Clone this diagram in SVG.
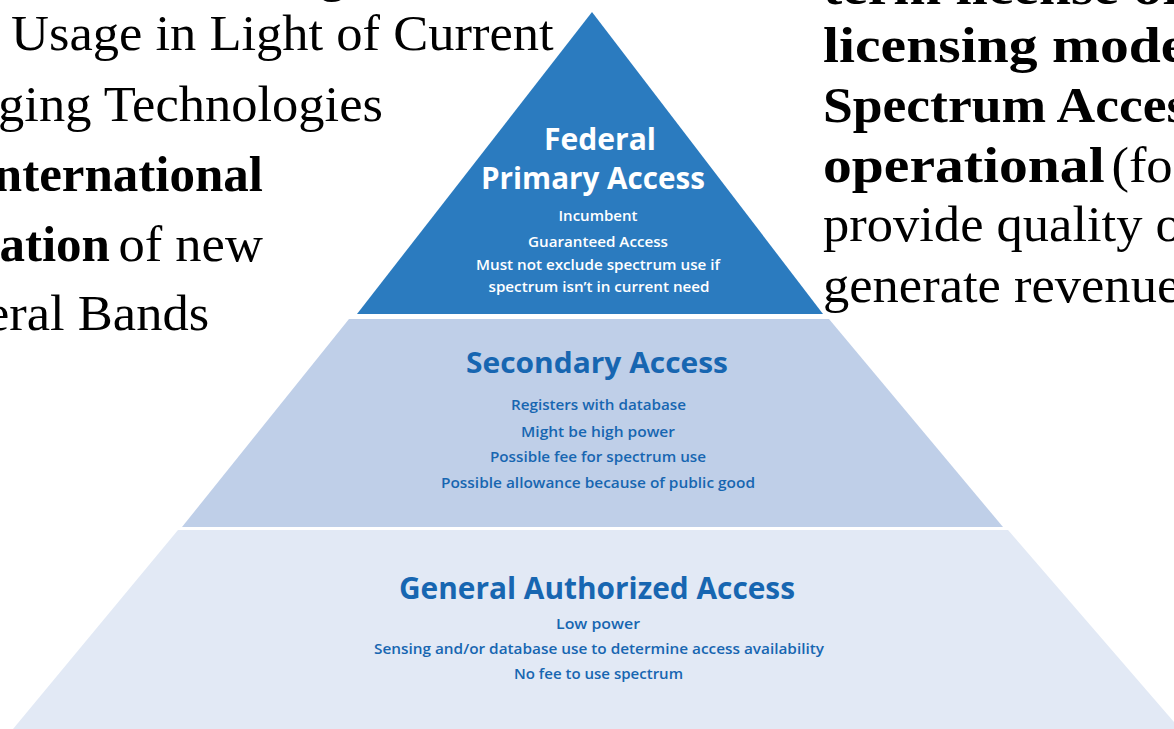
<svg xmlns="http://www.w3.org/2000/svg" width="1174" height="729" viewBox="0 0 1174 729">
  <style>
    .serif { font-family: "Liberation Serif", "Times New Roman", serif; font-size: 51px; fill: #000; }
    .b { font-weight: bold; }
    .hdr { font-family: "Open Sans", "Noto Sans", sans-serif; font-weight: 700; text-anchor: middle; }
    .sub { font-family: "Open Sans", "Noto Sans", sans-serif; font-weight: 600; font-size: 15px; text-anchor: middle; }
    .white { fill: #ffffff; }
    .blue { fill: #1766b1; }
  </style>

  <rect width="1174" height="729" fill="#ffffff"/>

  <!-- pyramid tiers -->
  <g id="tier-general">
    <polygon points="178,530 1008,530 1180,729 13,729" fill="#e2e9f5"/>
    <text class="hdr blue" x="597" y="599" font-size="30" textLength="396" lengthAdjust="spacingAndGlyphs">General Authorized Access</text>
    <text class="sub blue" x="598" y="629" textLength="84" lengthAdjust="spacingAndGlyphs">Low power</text>
    <text class="sub blue" x="599" y="654" textLength="450" lengthAdjust="spacingAndGlyphs">Sensing and/or database use to determine access availability</text>
    <text class="sub blue" x="598.5" y="679" textLength="169" lengthAdjust="spacingAndGlyphs">No fee to use spectrum</text>
  </g>

  <g id="tier-secondary">
    <polygon points="349,319 829,319 1003,527 182,527" fill="#bfcfe8"/>
    <text class="hdr blue" x="597" y="373" font-size="29" textLength="262" lengthAdjust="spacingAndGlyphs">Secondary Access</text>
    <text class="sub blue" x="598.5" y="410" textLength="175" lengthAdjust="spacingAndGlyphs">Registers with database</text>
    <text class="sub blue" x="598" y="437" textLength="154" lengthAdjust="spacingAndGlyphs">Might be high power</text>
    <text class="sub blue" x="598" y="462" textLength="216" lengthAdjust="spacingAndGlyphs">Possible fee for spectrum use</text>
    <text class="sub blue" x="598" y="488" textLength="314" lengthAdjust="spacingAndGlyphs">Possible allowance because of public good</text>
  </g>

  <g id="tier-federal">
    <polygon points="592,12 823,314 357,314" fill="#2b7bbf"/>
    <text class="hdr white" x="600" y="150" font-size="30" textLength="112" lengthAdjust="spacingAndGlyphs">Federal</text>
    <text class="hdr white" x="593" y="189" font-size="30" textLength="224" lengthAdjust="spacingAndGlyphs">Primary Access</text>
    <text class="sub white" x="598" y="221" textLength="79" lengthAdjust="spacingAndGlyphs">Incumbent</text>
    <text class="sub white" x="598" y="247" textLength="140" lengthAdjust="spacingAndGlyphs">Guaranteed Access</text>
    <text class="sub white" x="598" y="270" textLength="244" lengthAdjust="spacingAndGlyphs">Must not exclude spectrum use if</text>
    <text class="sub white" x="599" y="292" textLength="221" lengthAdjust="spacingAndGlyphs">spectrum isn’t in current need</text>
  </g>

  <!-- left slide text -->
  <g id="left-text">
    <g transform="scale(1.03,1)">
      <text class="serif" x="310" y="-9">g</text>
      <text class="serif" x="10.7" y="50">Usage in Light of Current</text>
      <text class="serif" x="371.8" y="121" text-anchor="end">ging Technologies</text>
      <text class="serif" x="115" y="261">of new</text>
      <text class="serif" x="203" y="330" text-anchor="end">eral Bands</text>
    </g>
    <text class="serif b" x="263" y="191" text-anchor="end">nternational</text>
    <text class="serif b" x="110" y="261" text-anchor="end">ation</text>
  </g>

  <!-- right slide text -->
  <g id="right-text">
    <g transform="translate(823,0) scale(1.13,1)">
      <text class="serif b" x="0" y="4">term license or</text>
      <text class="serif b" x="0" y="62">licensing mode</text>
      <text class="serif b" x="0" y="182">operational</text>
    </g>
    <g transform="translate(823,0) scale(1.05,1)">
      <text class="serif b" x="0" y="122">Spectrum Access</text>
    </g>
    <g transform="translate(823,0) scale(1.03,1)">
      <text class="serif" x="280" y="182">(fo</text>
      <text class="serif" x="0" y="241">provide quality o</text>
      <text class="serif" x="0" y="302">generate revenue</text>
    </g>
  </g>
</svg>
